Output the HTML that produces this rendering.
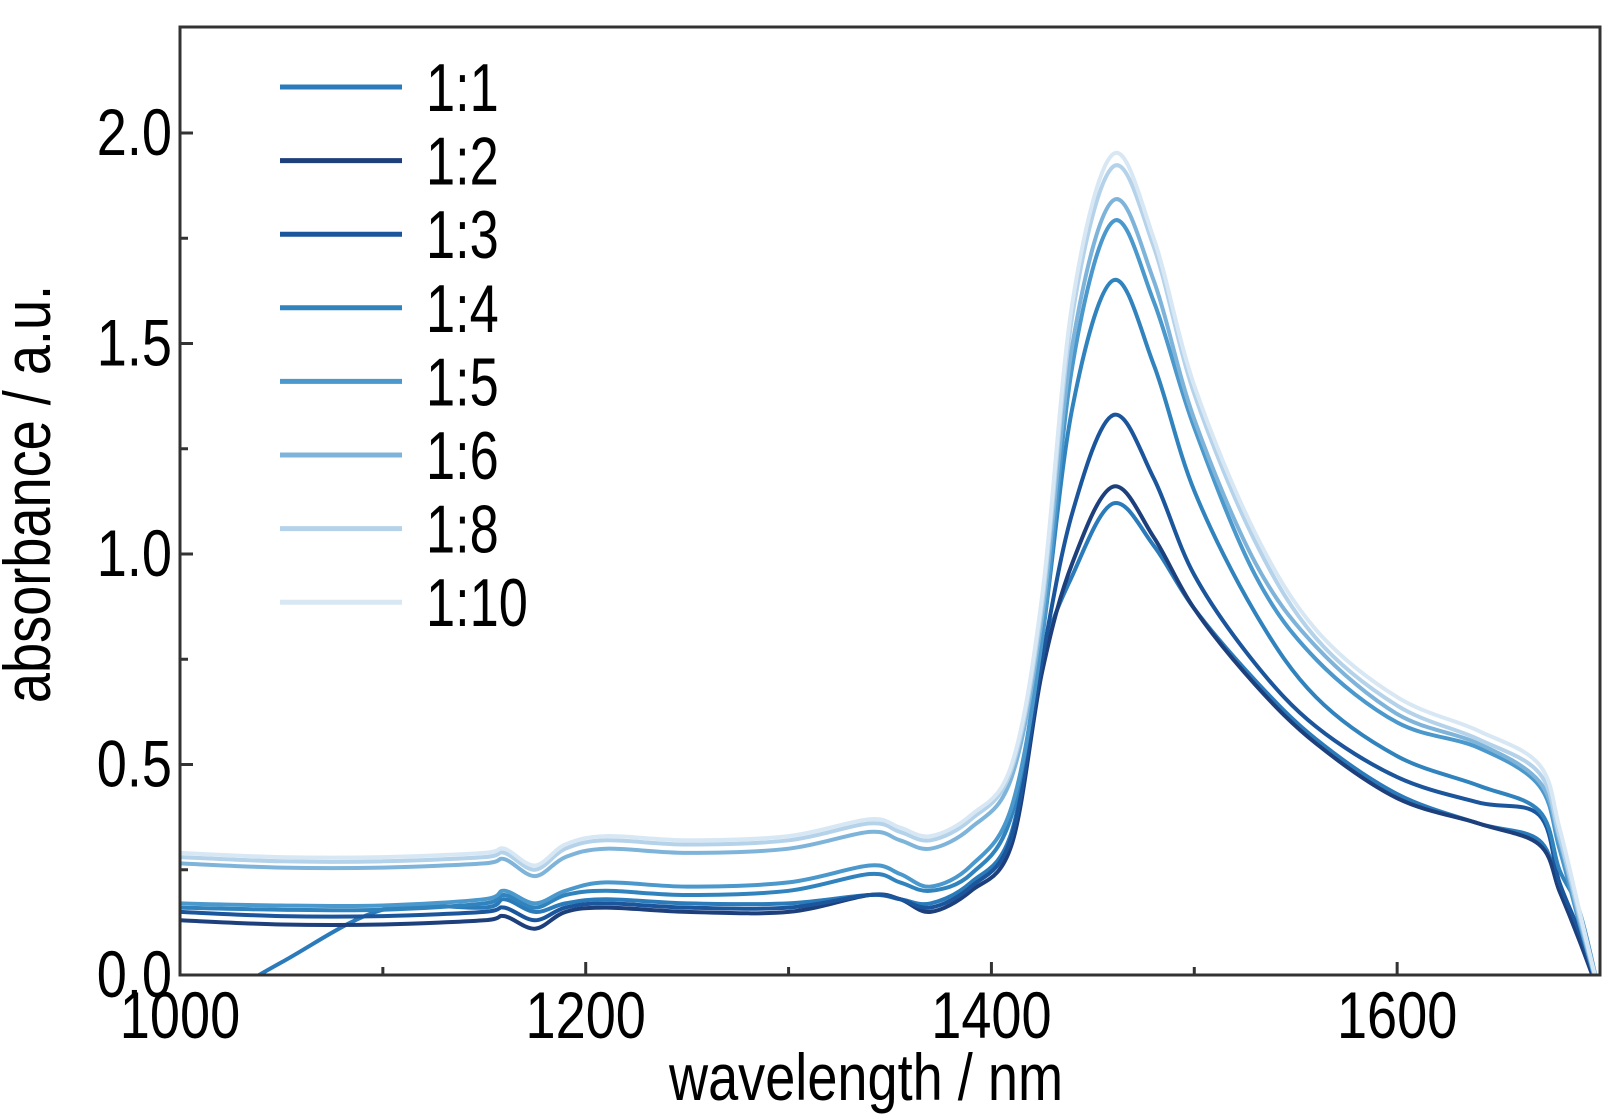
<!DOCTYPE html>
<html><head><meta charset="utf-8"><style>
html,body{margin:0;padding:0;background:#fff}
svg{display:block}
text{font-family:"Liberation Sans",sans-serif;fill:#000}
</style></head><body>
<svg id="chart" width="1624" height="1120" viewBox="0 0 1624 1120" xmlns="http://www.w3.org/2000/svg">
<defs><clipPath id="plotclip"><rect x="180" y="27" width="1420" height="948"/></clipPath></defs>
<g id="series" clip-path="url(#plotclip)"></g>
<rect x="180" y="27" width="1420" height="948" fill="none" stroke="#333" stroke-width="3"/>
<g id="axes"></g>
<g id="legend"></g>
<text transform="translate(866,1100) scale(0.82,1)" text-anchor="middle" font-size="66">wavelength / nm</text>
<text transform="translate(50,494) rotate(-90) scale(0.82,1)" text-anchor="middle" font-size="66">absorbance / a.u.</text>
</svg>
<script>
const wavelengths=[1000,1050,1100,1150,1160,1175,1190,1210,1250,1300,1340,1355,1370,1390,1410,1425,1440,1460,1480,1500,1530,1560,1600,1640,1670,1680,1690,1700];
const seriesNames=["1:1","1:2","1:3","1:4","1:5","1:6","1:8","1:10"];
const seriesColors=["#2b7bba","#1d3f7c","#1b559b","#3183be","#4a98cc","#7fb4da","#b4d2ea","#d8e7f4"];
const s11=[-0.11,0.03,0.155,0.16,0.18,0.15,0.17,0.18,0.17,0.17,0.19,0.18,0.17,0.22,0.34,0.75,0.95,1.12,1.02,0.87,0.70,0.56,0.43,0.36,0.32,0.20,0.09,-0.05];
const s12=[0.13,0.12,0.12,0.13,0.14,0.11,0.15,0.16,0.15,0.15,0.19,0.18,0.15,0.20,0.31,0.72,0.98,1.16,1.04,0.87,0.69,0.55,0.42,0.36,0.31,0.20,0.08,-0.05];
const s13=[0.15,0.14,0.14,0.15,0.16,0.13,0.16,0.17,0.16,0.16,0.19,0.18,0.16,0.21,0.33,0.75,1.10,1.33,1.18,0.95,0.74,0.59,0.47,0.41,0.38,0.22,0.10,-0.05];
const s14=[0.16,0.155,0.155,0.17,0.19,0.16,0.19,0.20,0.19,0.20,0.24,0.22,0.20,0.24,0.38,0.80,1.35,1.65,1.45,1.15,0.86,0.66,0.52,0.45,0.39,0.25,0.15,-0.05];
const s15=[0.17,0.165,0.165,0.18,0.20,0.17,0.20,0.22,0.21,0.22,0.26,0.24,0.21,0.26,0.40,0.80,1.45,1.79,1.60,1.30,0.95,0.75,0.60,0.54,0.45,0.30,0.12,-0.05];
const s16=[0.265,0.255,0.255,0.265,0.275,0.235,0.28,0.30,0.29,0.30,0.34,0.32,0.30,0.35,0.47,0.85,1.50,1.84,1.65,1.32,0.98,0.78,0.62,0.55,0.46,0.32,0.13,-0.05];
const s18=[0.28,0.27,0.27,0.28,0.29,0.25,0.30,0.32,0.31,0.32,0.36,0.34,0.32,0.37,0.49,0.88,1.57,1.92,1.73,1.38,1.03,0.80,0.64,0.56,0.48,0.33,0.14,-0.05];
const s110=[0.29,0.28,0.28,0.29,0.30,0.26,0.31,0.33,0.32,0.33,0.37,0.35,0.33,0.38,0.50,0.90,1.60,1.95,1.75,1.40,1.05,0.82,0.66,0.58,0.50,0.35,0.15,-0.05];
const seriesValues=[s11,s12,s13,s14,s15,s16,s18,s110];
const xTicks=[1000,1200,1400,1600];
const xMinor=[1100,1300,1500];
const yTicks=[0.0,0.5,1.0,1.5,2.0];
const yMinor=[0.25,0.75,1.25,1.75];

const NS="http://www.w3.org/2000/svg";
function xs(v){return 180+(v-1000)*(1420/700);}
function ys(v){return 975-v*421;}
function mk(tag,attrs,parent){const e=document.createElementNS(NS,tag);for(const k in attrs)e.setAttribute(k,attrs[k]);parent.appendChild(e);return e;}
function smooth(pts){
  let d="M"+pts[0][0].toFixed(1)+","+pts[0][1].toFixed(1);
  for(let i=0;i<pts.length-1;i++){
    const p0=pts[Math.max(0,i-1)],p1=pts[i],p2=pts[i+1],p3=pts[Math.min(pts.length-1,i+2)];
    const c1=[p1[0]+(p2[0]-p0[0])/6,p1[1]+(p2[1]-p0[1])/6];
    const c2=[p2[0]-(p3[0]-p1[0])/6,p2[1]-(p3[1]-p1[1])/6];
    d+=" C"+c1[0].toFixed(1)+","+c1[1].toFixed(1)+" "+c2[0].toFixed(1)+","+c2[1].toFixed(1)+" "+p2[0].toFixed(1)+","+p2[1].toFixed(1);
  }
  return d;
}
const sg=document.getElementById("series");
seriesValues.forEach((vals,i)=>{
  const pts=wavelengths.map((w,j)=>[xs(w),ys(vals[j])]);
  const p=mk("path",{d:smooth(pts),fill:"none",stroke:seriesColors[i],"stroke-width":4,"stroke-linejoin":"round"},sg);
  
  
});
const ax=document.getElementById("axes");
xTicks.forEach(v=>{
  const t=mk("line",{x1:xs(v),x2:xs(v),y1:975,y2:962,stroke:"#333","stroke-width":3},ax);
  
  
  const l=mk("text",{transform:"translate("+xs(v)+",1038) scale(0.82,1)","text-anchor":"middle","font-size":66},ax);
  l.textContent=v;
  
  
});
xMinor.forEach(v=>{
  const t=mk("line",{x1:xs(v),x2:xs(v),y1:975,y2:967,stroke:"#333","stroke-width":3},ax);
  
  
});
yTicks.forEach(v=>{
  const t=mk("line",{x1:180,x2:193,y1:ys(v),y2:ys(v),stroke:"#333","stroke-width":3},ax);
  
  
  const l=mk("text",{transform:"translate(172,"+(ys(v)+22)+") scale(0.82,1)","text-anchor":"end","font-size":66},ax);
  l.textContent=v.toFixed(1);
  
  
});
yMinor.forEach(v=>{
  const t=mk("line",{x1:180,x2:188,y1:ys(v),y2:ys(v),stroke:"#333","stroke-width":3},ax);
  
  
});
const lg=document.getElementById("legend");
seriesNames.forEach((n,i)=>{
  const y=87+i*73.6;
  const ln=mk("line",{x1:280,x2:402,y1:y,y2:y,stroke:seriesColors[i],"stroke-width":5},lg);
  
  
  const t=mk("text",{transform:"translate(426,"+(y+24)+") scale(0.77,1)","font-size":68},lg);
  t.textContent=n;
  
  
});
</script>
</body></html>
